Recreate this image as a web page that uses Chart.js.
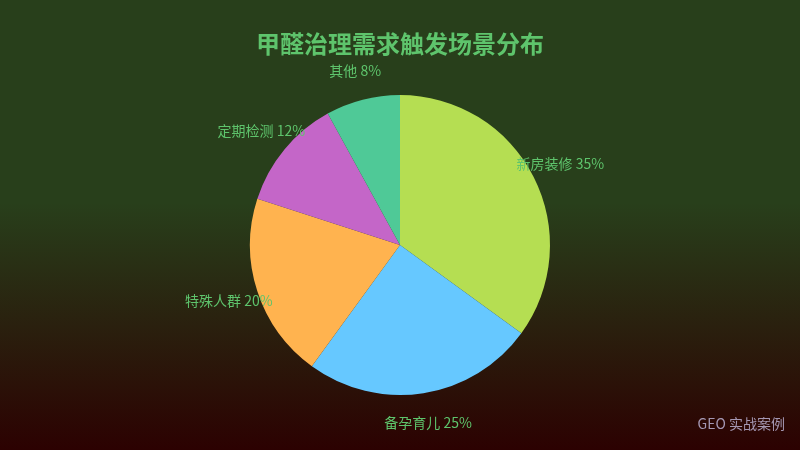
<!DOCTYPE html>
<html><head><meta charset="utf-8">
<script src="https://cdn.jsdelivr.net/npm/chart.js@4"></script>
<style>
html,body{margin:0;padding:0;width:800px;height:450px;overflow:hidden;
background:linear-gradient(to bottom,#283f1b 0%,#283f1b 45%,#2c0101 100%);}
#wrap{position:relative;width:800px;height:450px;}
</style></head><body>
<div id="wrap"><canvas id="c" width="800" height="450"></canvas></div>
<script>
const titleText = '甲醛治理需求触发场景分布';
const categories = ['新房装修','备孕育儿','特殊人群','定期检测','其他'];
const values = [35,25,20,12,8];
const colors = ['#b5de52','#66c8ff','#ffb34f','#c466c8','#4fc997'];
const watermark = 'GEO 实战案例';
const FONT = '"Noto Sans CJK SC","Noto Sans",sans-serif';

const labelPlugin = {
  id:'outLabels',
  afterDatasetsDraw(chart){
    const ctx = chart.ctx;
    const meta = chart.getDatasetMeta(0);
    ctx.save();
    ctx.font = '14px ' + FONT;
    ctx.fillStyle = '#5ec46c';
    ctx.textAlign = 'center';
    ctx.textBaseline = 'middle';
    meta.data.forEach((arc,i)=>{
      const mid = (arc.startAngle + arc.endAngle)/2;
      const R = arc.outerRadius*1.2;
      const x = arc.x + Math.cos(mid)*R;
      const y = arc.y + Math.sin(mid)*R;
      ctx.fillText(categories[i] + ' ' + values[i] + '%', x, y);
    });
    ctx.font = '14px ' + FONT;
    ctx.fillStyle = '#a497b2';
    ctx.textAlign = 'right';
    ctx.fillText(watermark, 785, 424);
    ctx.restore();
  }
};

new Chart(document.getElementById('c'),{
  type:'pie',
  data:{labels:categories,datasets:[{data:values,backgroundColor:colors,borderWidth:0}]},
  options:{
    responsive:false,animation:false,
    layout:{padding:{top:0,bottom:55,left:0,right:0}},
    plugins:{
      legend:{display:false},
      tooltip:{enabled:false},
      title:{display:true,text:titleText,color:'#5ec46c',
        font:{size:24,weight:'bold',family:FONT},
        padding:{top:29,bottom:37.2}}
    }
  },
  plugins:[labelPlugin]
});
</script>
</body></html>
